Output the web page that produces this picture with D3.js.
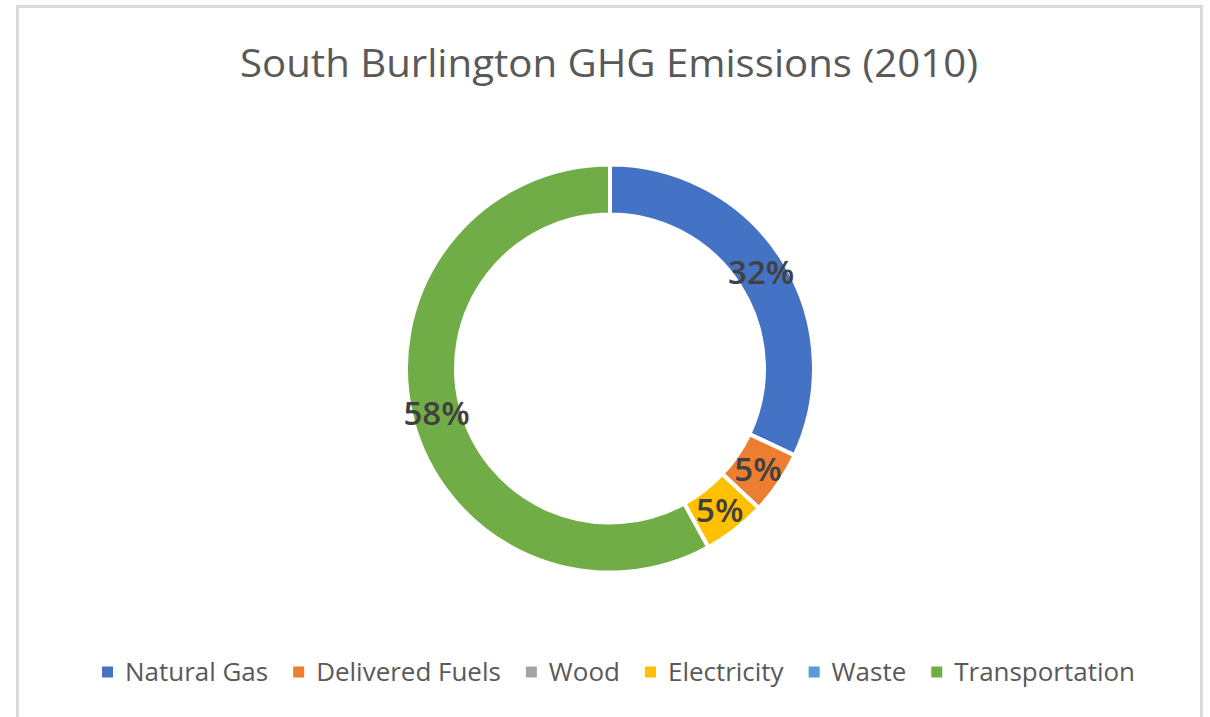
<!DOCTYPE html>
<html>
<head>
<meta charset="utf-8">
<script src="https://cdn.jsdelivr.net/npm/d3@7"></script>
<style>
  html, body { margin: 0; padding: 0; background: #ffffff; }
  svg { display: block; }
</style>
</head>
<body>
<svg id="chart" width="1210" height="717"></svg>
<script>
const title = "South Burlington GHG Emissions (2010)";
const categories = ["Natural Gas", "Delivered Fuels", "Wood", "Electricity", "Waste", "Transportation"];
const values = [32, 5, 0, 5, 0, 58];
const colors = ["#4472C4", "#ED7D31", "#A5A5A5", "#FFC000", "#5B9BD5", "#70AD47"];

const W = 1210, H = 717;
const svg = d3.select("#chart");
const FONT = "'Open Sans', 'Liberation Sans', sans-serif";

// frame
svg.append("rect").attr("x", 0).attr("y", 0).attr("width", W).attr("height", H).attr("fill", "#ffffff");
svg.append("path")
  .attr("d", "M17.5,717 L17.5,6.5 L1201.5,6.5 L1201.5,717")
  .attr("fill", "none").attr("stroke", "#d9d9d9").attr("stroke-width", 3);

// title
svg.append("text")
  .attr("x", 609).attr("y", 77)
  .attr("text-anchor", "middle")
  .attr("font-family", FONT).attr("font-size", 39)
  .attr("fill", "#595959")
  .attr("textLength", 738).attr("lengthAdjust", "spacingAndGlyphs")
  .text(title);

// donut
const cx = 610, cy = 368.5;
const outerR = 204, innerR = 154;
const pie = d3.pie().sort(null).value(d => d.value);
const data = categories.map((c, i) => ({ name: c, value: values[i], color: colors[i] }));
const arcs = pie(data);
const arc = d3.arc().innerRadius(innerR).outerRadius(outerR);
const total = d3.sum(values);

const g = svg.append("g").attr("transform", `translate(${cx},${cy})`);
g.selectAll("path.slice").data(arcs).enter().append("path")
  .attr("class", "slice")
  .attr("d", arc)
  .attr("fill", d => d.data.color)
  .attr("stroke", "#ffffff")
  .attr("stroke-width", 4)
  .attr("stroke-linejoin", "miter");

const fmt = d3.format(".0%");
g.selectAll("text.lbl").data(arcs.filter(d => d.data.value > 0)).enter().append("text")
  .attr("class", "lbl")
  .attr("transform", d => { const c = arc.centroid(d); return `translate(${c[0]},${c[1]})`; })
  .attr("text-anchor", "middle")
  .attr("dy", "0.36em")
  .attr("font-family", FONT).attr("font-size", 33).attr("font-weight", 600)
  .attr("fill", "#404040")
  .text(d => fmt(d.data.value / total));

// legend
const legendY = 672;
const legFont = 25;
const sq = 11, sqGap = 12, itemGap = 25;
const legendLeft = 102, legendRight = 1135;
const leg = svg.append("g");
const items = [];
categories.forEach((c, i) => {
  const tt = leg.append("text")
    .attr("font-family", FONT).attr("font-size", legFont)
    .attr("fill", "#595959")
    .attr("y", legendY + 9)
    .text(c);
  items.push({ text: tt, w: tt.node().getComputedTextLength(), color: colors[i] });
});
const fixedW = items.length * (sq + sqGap) + itemGap * (items.length - 1);
const k = (legendRight - legendLeft - fixedW) / d3.sum(items, d => d.w);
let x = legendLeft;
items.forEach(it => {
  const w = it.w * k;
  leg.append("rect")
    .attr("x", x).attr("y", legendY - sq / 2)
    .attr("width", sq).attr("height", sq)
    .attr("fill", it.color);
  it.text.attr("x", x + sq + sqGap)
    .attr("textLength", w).attr("lengthAdjust", "spacingAndGlyphs");
  x += sq + sqGap + w + itemGap;
});
</script>
</body>
</html>
